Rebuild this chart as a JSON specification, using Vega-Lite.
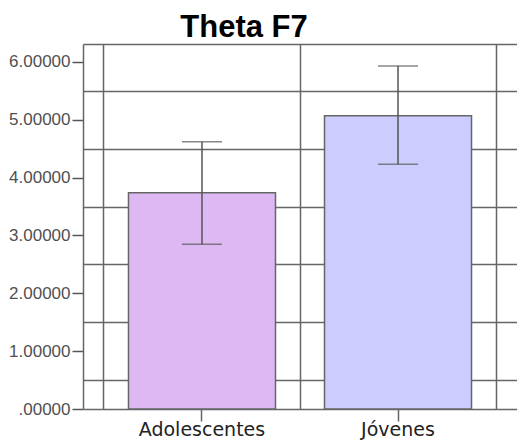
{
  "$schema": "https://vega.github.io/schema/vega-lite/v6.json",
  "width": 434,
  "height": 365,
  "autosize": "none",
  "padding": {"left": 83, "top": 44, "right": 0, "bottom": 33},
  "background": "white",
  "config": {"view": {"stroke": null}},
  "title": {
    "text": "Theta F7",
    "anchor": "middle",
    "dx": -56,
    "offset": 0,
    "font": "Liberation Sans",
    "fontSize": 31,
    "fontWeight": "bold",
    "color": "#000000"
  },
  "data": {
    "values": [
      {"grupo": "Adolescentes", "media": 3.74, "inferior": 2.85, "superior": 4.62},
      {"grupo": "Jóvenes", "media": 5.07, "inferior": 4.23, "superior": 5.93}
    ]
  },
  "resolve": {"axis": {"x": "independent", "y": "independent"}},
  "layer": [
    {
      "mark": {"type": "bar", "width": {"band": 0.75}, "stroke": "#666666", "strokeWidth": 1.5},
      "encoding": {
        "x": {
          "field": "grupo",
          "type": "nominal",
          "sort": null,
          "scale": {"paddingInner": 0, "paddingOuter": 0.107},
          "axis": {
            "title": null,
            "orient": "bottom",
            "labelAngle": 0,
            "labelFont": "DejaVu Sans",
            "labelFontSize": 19,
            "labelColor": "#222222",
            "labelPadding": -1,
            "tickSize": 12,
            "tickColor": "#666666",
            "tickWidth": 1.5,
            "domainColor": "#666666",
            "domainWidth": 1.5,
            "grid": false
          }
        },
        "y": {
          "field": "media",
          "type": "quantitative",
          "scale": {"domain": [0, 6.31], "nice": false, "zero": true},
          "axis": {
            "title": null,
            "values": [0, 1, 2, 3, 4, 5, 6],
            "labelExpr": "datum.value == 0 ? '.00000' : format(datum.value, '.5f')",
            "labelFont": "Liberation Sans",
            "labelFontSize": 17,
            "labelColor": "#505050",
            "labelPadding": 2,
            "tickSize": 11,
            "tickColor": "#555555",
            "tickWidth": 1.5,
            "domainColor": "#666666",
            "domainWidth": 1.5,
            "grid": false
          }
        },
        "fill": {
          "field": "grupo",
          "type": "nominal",
          "scale": {"domain": ["Adolescentes", "Jóvenes"], "range": ["#DDB8F2", "#CCCCFF"]},
          "legend": null
        }
      }
    },
    {
      "mark": {"type": "rule", "color": "#555555", "strokeWidth": 1.5},
      "encoding": {
        "x": {
          "field": "grupo",
          "type": "nominal",
          "sort": null,
          "axis": {
            "title": null,
            "orient": "top",
            "labels": false,
            "ticks": false,
            "bandPosition": 1,
            "tickExtra": true,
            "grid": true,
            "gridColor": "#666666",
            "gridWidth": 1.5,
            "gridOpacity": 1,
            "domain": true,
            "domainColor": "#666666",
            "domainWidth": 1.5,
            "zindex": 0
          }
        },
        "y": {
          "field": "inferior",
          "type": "quantitative",
          "axis": {
            "title": null,
            "orient": "right",
            "values": [0.5, 1.5, 2.5, 3.5, 4.5, 5.5],
            "labels": false,
            "ticks": false,
            "domain": false,
            "grid": true,
            "gridColor": "#666666",
            "gridWidth": 1.5,
            "gridOpacity": 1,
            "zindex": 0
          }
        },
        "y2": {"field": "superior"}
      }
    },
    {
      "mark": {"type": "tick", "color": "#555555", "size": 40, "thickness": 1.5},
      "encoding": {
        "x": {"field": "grupo", "type": "nominal", "sort": null, "axis": null},
        "y": {"field": "inferior", "type": "quantitative", "axis": null}
      }
    },
    {
      "mark": {"type": "tick", "color": "#555555", "size": 40, "thickness": 1.5},
      "encoding": {
        "x": {"field": "grupo", "type": "nominal", "sort": null, "axis": null},
        "y": {"field": "superior", "type": "quantitative", "axis": null}
      }
    }
  ]
}
